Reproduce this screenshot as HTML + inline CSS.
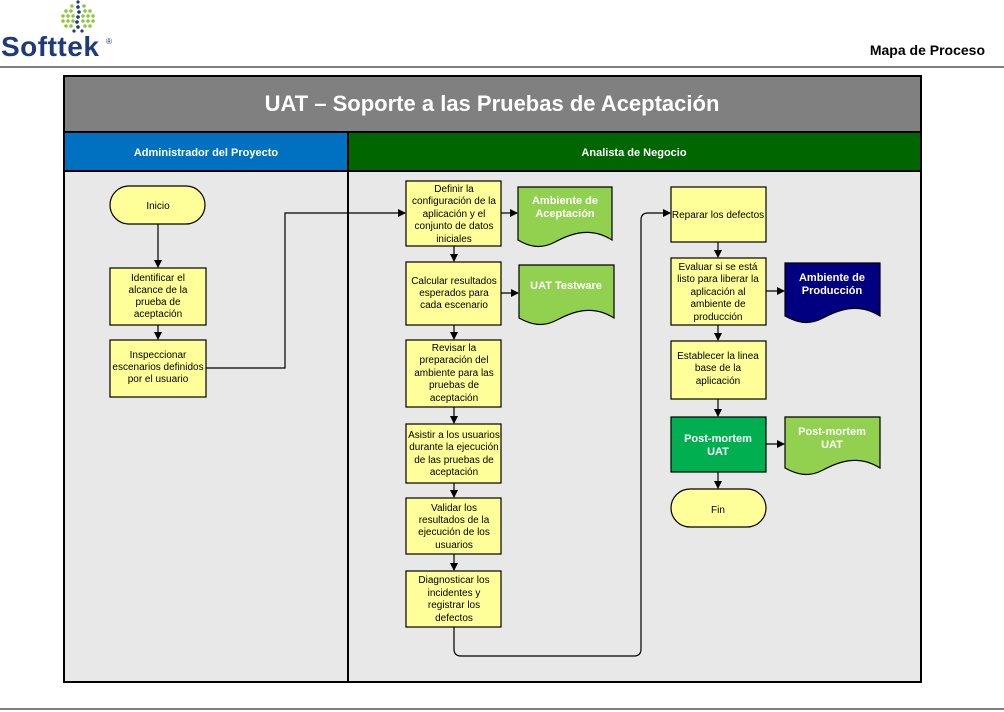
<!DOCTYPE html>
<html><head><meta charset="utf-8"><style>
body{margin:0;background:#fff;width:1004px;height:712px;overflow:hidden}
svg{display:block}
.t{font-family:"Liberation Sans",sans-serif;font-size:10px;fill:#000;text-anchor:middle}
.w{font-family:"Liberation Sans",sans-serif;font-size:11px;font-weight:bold;fill:#fff;text-anchor:middle}
</style></head><body>
<svg width="1004" height="712" viewBox="0 0 1004 712">
<defs><marker id="a" markerWidth="8" markerHeight="8" refX="7" refY="4" orient="auto" markerUnits="userSpaceOnUse"><path d="M0,0 L8,4 L0,8z" fill="#000"/></marker></defs>
<!-- logo -->
<g fill="#8dc63f">
<circle cx="72" cy="6" r="1.8"/><circle cx="84" cy="6" r="1.8"/>
<circle cx="66" cy="11" r="1.8"/><circle cx="71" cy="11" r="1.8"/><circle cx="85" cy="11" r="1.8"/><circle cx="90" cy="11" r="1.8"/>
<circle cx="63" cy="16" r="1.8"/><circle cx="68" cy="16" r="1.8"/><circle cx="73" cy="16" r="1.8"/><circle cx="83" cy="16" r="1.8"/><circle cx="88" cy="16" r="1.8"/><circle cx="93" cy="16" r="1.8"/>
<circle cx="63" cy="21" r="1.8"/><circle cx="68" cy="21" r="1.8"/><circle cx="73" cy="21" r="1.8"/><circle cx="83" cy="21" r="1.8"/><circle cx="88" cy="21" r="1.8"/><circle cx="93" cy="21" r="1.8"/>
<circle cx="66" cy="26" r="1.8"/><circle cx="71" cy="26" r="1.8"/><circle cx="85" cy="26" r="1.8"/><circle cx="90" cy="26" r="1.8"/>
</g>
<g fill="#1f3a7a"><circle cx="78" cy="2" r="1.6"/><circle cx="78" cy="7" r="1.8"/><circle cx="79" cy="12" r="1.8"/><circle cx="78" cy="17" r="1.8"/><circle cx="77" cy="22" r="1.8"/><circle cx="78" cy="27" r="1.8"/><circle cx="74" cy="31" r="1.6"/><circle cx="82" cy="31" r="1.6"/></g>
<text x="1" y="56" font-family="Liberation Sans,sans-serif" font-size="28" font-weight="bold" fill="#1f3a7a" letter-spacing="0.5">Softtek</text>
<text x="106" y="44" font-family="Liberation Sans,sans-serif" font-size="8" fill="#1f3a7a">®</text>
<text x="985" y="55" font-family="Liberation Sans,sans-serif" font-size="14" font-weight="bold" text-anchor="end">Mapa de Proceso</text>
<line x1="0" y1="67" x2="1004" y2="67" stroke="#000" stroke-width="1"/>
<line x1="0" y1="709" x2="1004" y2="709" stroke="#000" stroke-width="1"/>
<!-- frame -->
<rect x="64" y="76" width="857" height="606" fill="#e8e8e8" stroke="#000" stroke-width="2"/>
<rect x="64" y="76" width="857" height="56" fill="#808080" stroke="#000" stroke-width="2"/>
<text x="492" y="111" font-family="Liberation Sans,sans-serif" font-size="22" font-weight="bold" fill="#fff" text-anchor="middle">UAT – Soporte a las Pruebas de Aceptación</text>
<rect x="64" y="132" width="284" height="39" fill="#0070c0" stroke="#000" stroke-width="2"/>
<rect x="348" y="132" width="573" height="39" fill="#006600" stroke="#000" stroke-width="2"/>
<text x="206" y="156" class="w" font-size="13">Administrador del Proyecto</text>
<text x="634" y="156" class="w" font-size="13">Analista de Negocio</text>
<line x1="348" y1="171" x2="348" y2="682" stroke="#000" stroke-width="2"/>
<!-- connectors -->
<g stroke="#000" stroke-width="1.2" fill="none">
<line x1="158" y1="224" x2="158" y2="267" marker-end="url(#a)"/>
<line x1="158" y1="325" x2="158" y2="339" marker-end="url(#a)"/>
<path d="M206,368 H285 V213 H405" marker-end="url(#a)"/>
<line x1="501" y1="213" x2="517" y2="213" marker-end="url(#a)"/>
<line x1="454" y1="246" x2="454" y2="261" marker-end="url(#a)"/>
<line x1="501" y1="293" x2="518" y2="293" marker-end="url(#a)"/>
<line x1="454" y1="325" x2="454" y2="339" marker-end="url(#a)"/>
<line x1="454" y1="407" x2="454" y2="423" marker-end="url(#a)"/>
<line x1="454" y1="483" x2="454" y2="497" marker-end="url(#a)"/>
<line x1="454" y1="554" x2="454" y2="570" marker-end="url(#a)"/>
<path d="M454,627 V649 Q454,656 461,656 H634 Q641,656 641,649 V220 Q641,213 648,213 H670" marker-end="url(#a)"/>
<line x1="718" y1="242" x2="718" y2="257" marker-end="url(#a)"/>
<line x1="766" y1="291" x2="784" y2="291" marker-end="url(#a)"/>
<line x1="718" y1="325" x2="718" y2="340" marker-end="url(#a)"/>
<line x1="718" y1="399" x2="718" y2="416" marker-end="url(#a)"/>
<line x1="766" y1="444" x2="784" y2="444" marker-end="url(#a)"/>
<line x1="718" y1="472" x2="718" y2="488" marker-end="url(#a)"/>
</g>
<!-- nodes -->
<g stroke="#000" stroke-width="1.2">
<rect x="110" y="186" width="95" height="38" rx="19" fill="#ffff99"/>
<rect x="110" y="268" width="96" height="57" fill="#ffff99"/>
<rect x="110" y="340" width="96" height="57" fill="#ffff99"/>
<rect x="406" y="181" width="95" height="65" fill="#ffff99"/>
<rect x="406" y="262" width="95" height="63" fill="#ffff99"/>
<rect x="406" y="340" width="95" height="67" fill="#ffff99"/>
<rect x="406" y="424" width="95" height="59" fill="#ffff99"/>
<rect x="406" y="498" width="95" height="56" fill="#ffff99"/>
<rect x="406" y="571" width="95" height="56" fill="#ffff99"/>
<rect x="671" y="187" width="95" height="55" fill="#ffff99"/>
<rect x="671" y="258" width="95" height="67" fill="#ffff99"/>
<rect x="671" y="341" width="95" height="58" fill="#ffff99"/>
<rect x="671" y="417" width="95" height="55" fill="#00b050"/>
<rect x="671" y="489" width="95" height="38" rx="19" fill="#ffff99"/>
<path d="M518,187 H612 V240 C590,226 570,234 555,242 C540,250 528,246 518,240 Z" fill="#92d050"/>
<path d="M519,265 H614 V318 C592,304 572,312 557,320 C542,328 530,324 519,318 Z" fill="#92d050"/>
<path d="M785,263 H880 V316 C858,302 838,310 823,318 C808,326 796,322 785,316 Z" fill="#000080"/>
<path d="M785,417 H880 V468 C858,454 838,462 823,470 C808,478 796,474 785,468 Z" fill="#92d050"/>
</g>
<g class="t">
<text x="158" y="209" class="t">Inicio</text>
<text class="t"><tspan x="158" y="281">Identificar el</tspan><tspan x="158" y="293">alcance de la</tspan><tspan x="158" y="305">prueba de</tspan><tspan x="158" y="317">aceptación</tspan></text>
<text class="t"><tspan x="158" y="358">Inspeccionar</tspan><tspan x="158" y="370">escenarios definidos</tspan><tspan x="158" y="382">por el usuario</tspan></text>
<text class="t"><tspan x="454" y="192">Definir la</tspan><tspan x="454" y="204">configuración de la</tspan><tspan x="454" y="217">aplicación y el</tspan><tspan x="454" y="229">conjunto de datos</tspan><tspan x="454" y="242">iniciales</tspan></text>
<text class="t"><tspan x="454" y="284">Calcular resultados</tspan><tspan x="454" y="296">esperados para</tspan><tspan x="454" y="308">cada escenario</tspan></text>
<text class="t"><tspan x="454" y="351">Revisar la</tspan><tspan x="454" y="363">preparación del</tspan><tspan x="454" y="376">ambiente para las</tspan><tspan x="454" y="388">pruebas de</tspan><tspan x="454" y="401">aceptación</tspan></text>
<text class="t"><tspan x="454" y="438">Asistir a los usuarios</tspan><tspan x="454" y="450">durante la ejecución</tspan><tspan x="454" y="463">de las pruebas de</tspan><tspan x="454" y="475">aceptación</tspan></text>
<text class="t"><tspan x="454" y="511">Validar los</tspan><tspan x="454" y="523">resultados de la</tspan><tspan x="454" y="535">ejecución de los</tspan><tspan x="454" y="548">usuarios</tspan></text>
<text class="t"><tspan x="454" y="583">Diagnosticar los</tspan><tspan x="454" y="596">incidentes y</tspan><tspan x="454" y="608">registrar los</tspan><tspan x="454" y="621">defectos</tspan></text>
<text x="718" y="218" class="t">Reparar los defectos</text>
<text class="t"><tspan x="718" y="270">Evaluar si se está</tspan><tspan x="718" y="282">listo para liberar la</tspan><tspan x="718" y="295">aplicación al</tspan><tspan x="718" y="307">ambiente de</tspan><tspan x="718" y="320">producción</tspan></text>
<text class="t"><tspan x="718" y="359">Establecer la linea</tspan><tspan x="718" y="371">base de la</tspan><tspan x="718" y="384">aplicación</tspan></text>
<text x="718" y="513" class="t" font-size="11">Fin</text>
</g>
<text class="w"><tspan x="718" y="442">Post-mortem</tspan><tspan x="718" y="455">UAT</tspan></text>
<text class="w"><tspan x="565" y="204">Ambiente de</tspan><tspan x="565" y="217">Aceptación</tspan></text>
<text class="w" x="566" y="289">UAT Testware</text>
<text class="w"><tspan x="832" y="281">Ambiente de</tspan><tspan x="832" y="294">Producción</tspan></text>
<text class="w"><tspan x="832" y="435">Post-mortem</tspan><tspan x="832" y="448">UAT</tspan></text>
</svg>
</body></html>
